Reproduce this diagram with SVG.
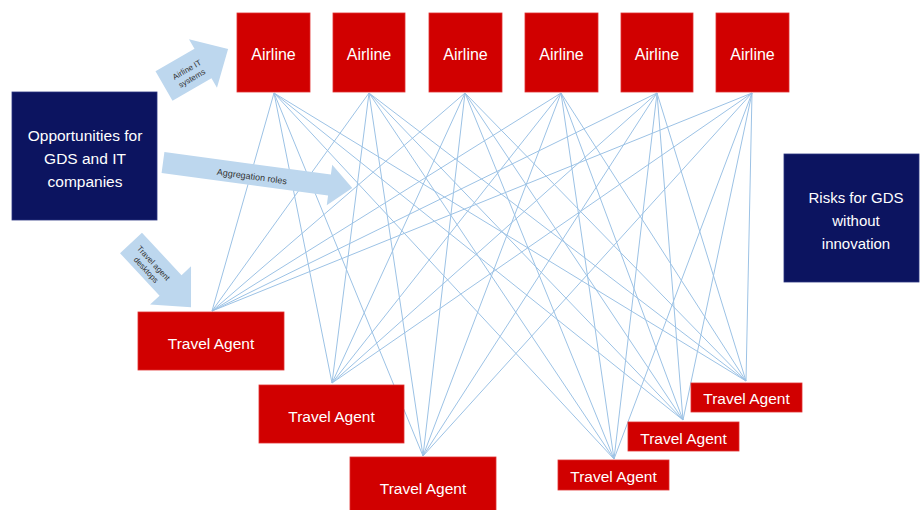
<svg xmlns="http://www.w3.org/2000/svg" width="920" height="510" viewBox="0 0 920 510">
<style>
.red{fill:#d10000;stroke:#e03030;stroke-width:0.8}
.navy{fill:#0c1460;stroke:#2a3480;stroke-width:0.8}
.lbl{font-family:"Liberation Sans",Arial,sans-serif;fill:#ffffff;text-anchor:middle;dominant-baseline:central}
.conn line{stroke:#9cc2e5;stroke-width:1}
.arw{fill:#bdd7ee}
.atxt{font-family:"Liberation Sans",Arial,sans-serif;fill:#333333;text-anchor:middle;dominant-baseline:central}
</style>
<rect width="920" height="510" fill="#ffffff"/>
<g id="connectors" class="conn">
<line x1="274" y1="93" x2="212" y2="311"/><line x1="274" y1="93" x2="332" y2="383"/><line x1="274" y1="93" x2="423" y2="456"/><line x1="274" y1="93" x2="614" y2="459"/><line x1="274" y1="93" x2="683" y2="420"/><line x1="274" y1="93" x2="746" y2="381"/>
<line x1="369" y1="93" x2="212" y2="311"/><line x1="369" y1="93" x2="332" y2="383"/><line x1="369" y1="93" x2="423" y2="456"/><line x1="369" y1="93" x2="614" y2="459"/><line x1="369" y1="93" x2="683" y2="420"/><line x1="369" y1="93" x2="746" y2="381"/>
<line x1="465" y1="93" x2="212" y2="311"/><line x1="465" y1="93" x2="332" y2="383"/><line x1="465" y1="93" x2="423" y2="456"/><line x1="465" y1="93" x2="614" y2="459"/><line x1="465" y1="93" x2="683" y2="420"/><line x1="465" y1="93" x2="746" y2="381"/>
<line x1="561" y1="93" x2="212" y2="311"/><line x1="561" y1="93" x2="332" y2="383"/><line x1="561" y1="93" x2="423" y2="456"/><line x1="561" y1="93" x2="614" y2="459"/><line x1="561" y1="93" x2="683" y2="420"/><line x1="561" y1="93" x2="746" y2="381"/>
<line x1="657" y1="93" x2="212" y2="311"/><line x1="657" y1="93" x2="332" y2="383"/><line x1="657" y1="93" x2="423" y2="456"/><line x1="657" y1="93" x2="614" y2="459"/><line x1="657" y1="93" x2="683" y2="420"/><line x1="657" y1="93" x2="746" y2="381"/>
<line x1="752" y1="93" x2="212" y2="311"/><line x1="752" y1="93" x2="332" y2="383"/><line x1="752" y1="93" x2="423" y2="456"/><line x1="752" y1="93" x2="614" y2="459"/><line x1="752" y1="93" x2="683" y2="420"/><line x1="752" y1="93" x2="746" y2="381"/>
</g>
<g id="airline1"><rect class="red" x="237" y="13" width="73" height="79"/><text class="lbl" x="273.5" y="54" font-size="16">Airline</text></g>
<g id="airline2"><rect class="red" x="333" y="13" width="72" height="79"/><text class="lbl" x="369" y="54" font-size="16">Airline</text></g>
<g id="airline3"><rect class="red" x="429" y="13" width="73" height="79"/><text class="lbl" x="465.5" y="54" font-size="16">Airline</text></g>
<g id="airline4"><rect class="red" x="525" y="13" width="73" height="79"/><text class="lbl" x="561.5" y="54" font-size="16">Airline</text></g>
<g id="airline5"><rect class="red" x="621" y="13" width="72" height="79"/><text class="lbl" x="657" y="54" font-size="16">Airline</text></g>
<g id="airline6"><rect class="red" x="716" y="13" width="73" height="79"/><text class="lbl" x="752.5" y="54" font-size="16">Airline</text></g>
<g id="opportunities"><rect class="navy" x="12" y="92" width="145" height="128"/>
<text class="lbl" x="85" y="135" font-size="15.5">Opportunities for</text>
<text class="lbl" x="85" y="158" font-size="15.5">GDS and IT</text>
<text class="lbl" x="85" y="181" font-size="15.5">companies</text></g>
<g id="risks"><rect class="navy" x="784" y="154" width="135" height="128"/>
<text class="lbl" x="856" y="197" font-size="15">Risks for GDS</text>
<text class="lbl" x="856" y="220" font-size="15">without</text>
<text class="lbl" x="856" y="243" font-size="15">innovation</text></g>
<g id="travelagent1"><rect class="red" x="138" y="312" width="146" height="58"/><text class="lbl" x="211" y="343" font-size="15.5">Travel Agent</text></g>
<g id="travelagent2"><rect class="red" x="259" y="385" width="145" height="58"/><text class="lbl" x="331.5" y="416" font-size="15.5">Travel Agent</text></g>
<g id="travelagent3"><rect class="red" x="350" y="457" width="146" height="56"/><text class="lbl" x="423" y="488" font-size="15.5">Travel Agent</text></g>
<g id="travelagent4"><rect class="red" x="558" y="460" width="111" height="30"/><text class="lbl" x="613.5" y="476" font-size="15.5">Travel Agent</text></g>
<g id="travelagent5"><rect class="red" x="628" y="422" width="111" height="29"/><text class="lbl" x="683.5" y="438" font-size="15.5">Travel Agent</text></g>
<g id="travelagent6"><rect class="red" x="691" y="383" width="111" height="29"/><text class="lbl" x="746.5" y="398" font-size="15.5">Travel Agent</text></g>
<g id="arrow-airline-it" transform="translate(164,86) rotate(-30)">
<path class="arw" d="M0,-17 L45,-17 L45,-28 L74,0 L45,28 L45,17 L0,17 Z"/>
<text class="atxt" font-size="8"><tspan x="28" y="-3">Airline IT</tspan><tspan x="28" y="7">systems</tspan></text>
</g>
<g id="arrow-aggregation" transform="translate(163,162.5) rotate(7.7)">
<path class="arw" d="M0,-10.5 L168,-10.5 L168,-20.5 L191,0 L168,20.5 L168,10.5 L0,10.5 Z"/>
<text class="atxt" x="90" y="2" font-size="9">Aggregation roles</text>
</g>
<g id="arrow-desktops" transform="translate(131,243) rotate(47)">
<path class="arw" d="M0,-15 L58,-15 L58,-28 L88,0 L58,28 L58,15 L0,15 Z"/>
<text class="atxt" font-size="8"><tspan x="30" y="-3">Travel agent</tspan><tspan x="30" y="7">desktops</tspan></text>
</g>
</svg>
